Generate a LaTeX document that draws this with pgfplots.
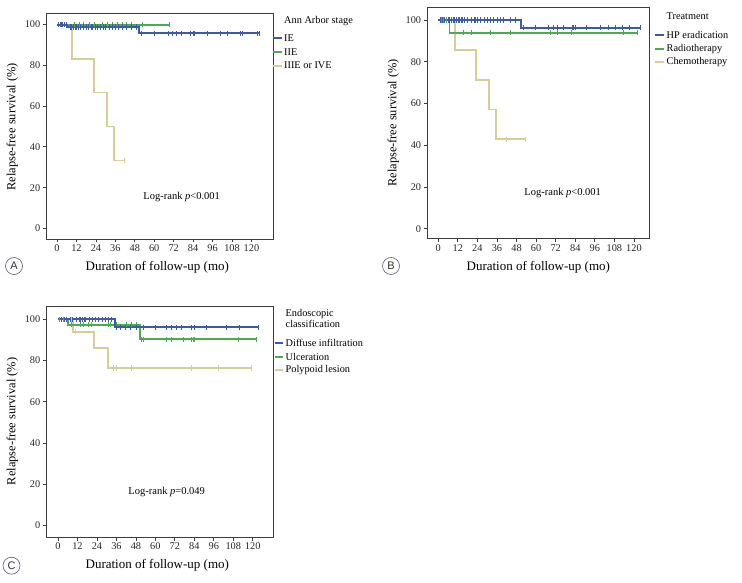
\documentclass[border=0pt]{standalone}
\usepackage{pgfplots}
\pgfplotsset{compat=1.18}
\usepackage{fontspec}
\setmainfont{Liberation Serif}
\newfontfamily\sffont{Liberation Sans}
\definecolor{kmblue}{RGB}{60,90,168}
\definecolor{kmgreen}{RGB}{72,172,80}
\definecolor{kmtan}{RGB}{214,206,152}
\definecolor{axgray}{RGB}{60,60,60}
\definecolor{circ}{RGB}{95,85,115}
\pgfplotsset{
  km/.style={
    scale only axis, anchor=south west,
    axis line style={axgray, line width=0.9pt},
    tick style={axgray, line width=0.8pt},
    tick align=outside, major tick length=3.5pt, tick pos=left,
    xtick={0,12,...,120}, ytick={0,20,...,100},
    ticklabel style={font=\fontsize{10.3}{12}\selectfont, text=black!85},
    /pgf/number format/assume math mode=true,
    xticklabel style={inner sep=2pt}, yticklabel style={inner sep=2.5pt},
  },
  curve/.style={const plot, line width=1.9pt, #1},
  cens/.style={only marks, mark=|, mark size=2.6pt, mark options={line width=0.6pt, #1}},
}
\newcommand{\legtext}{\fontsize{10.3}{12}\selectfont}
\begin{document}
\begin{tikzpicture}[x=1pt,y=1pt]
\path[use as bounding box] (0,0) rectangle (742,582);

% ---------------- Panel A ----------------
\begin{axis}[km, at={(46.5pt,343pt)}, width=226.5pt, height=226pt,
  xmin=-6.5, xmax=133.3, ymin=-5.2, ymax=105.7]
\addplot[curve=kmtan] coordinates {(0,100)(9.5,83.3)(22.6,66.7)(30.9,50)(35.4,33.3)(41.7,33.3)};
\addplot[cens=kmtan] coordinates {(41.7,33.3)};
\addplot[curve=kmgreen] coordinates {(0,100)(69,100)};
\addplot[cens=kmgreen] coordinates {(10.6,100)(13.7,100)(16,100)(19.9,100)(23,100)(28,100)(31,100)(34.2,100)(37,100)(40.4,100)(43,100)(46,100)(52.9,100)(69,100)};
\addplot[curve=kmblue] coordinates {(0,100)(6.2,98.8)(50.6,95.7)(125,95.7)};
\addplot[cens=kmblue] coordinates {(1,100)(2,100)(2.5,100)(3,100)(3.5,100)(4.5,100)(5.5,100)
 (8,98.8)(9,98.8)(10,98.8)(11,98.8)(12,98.8)(13,98.8)(14.5,98.8)(16,98.8)(18,98.8)(19.5,98.8)(21,98.8)(22,98.8)(23.5,98.8)(25,98.8)(27,98.8)(28.5,98.8)(30,98.8)(32,98.8)(34,98.8)(36,98.8)(38,98.8)(40,98.8)(43,98.8)(46,98.8)(49,98.8)
 (52,95.7)(60.3,95.7)(68.6,95.7)(71.3,95.7)(73.8,95.7)(76.9,95.7)(82.5,95.7)(83.8,95.7)(84.6,95.7)(92.5,95.7)(100.7,95.7)(104.9,95.7)(113.2,95.7)(114.3,95.7)(123.6,95.7)(125,95.7)};
\end{axis}
\node[font=\fontsize{10.5}{12}\selectfont] at (181.7,385.3) {Log-rank \textit{p}<0.001};
\node[font=\fontsize{13}{15}\selectfont] at (157.3,314.3) {Duration of follow-up (mo)};
\node[font=\fontsize{12.4}{14}\selectfont, rotate=90] at (12.3,455) {Relapse-free survival (\%)};
\node[anchor=west, inner sep=0, font=\legtext] at (284,561.3) {Ann Arbor stage};
\draw[kmblue, line width=1.8pt] (273,543.7) -- (282,543.7);
\draw[kmgreen, line width=1.8pt] (273,529.7) -- (282,529.7);
\draw[kmtan, line width=1.8pt] (273,516.3) -- (282,516.3);
\node[anchor=west, inner sep=0, font=\legtext] at (284,543.7) {IE};
\node[anchor=west, inner sep=0, font=\legtext] at (284,529.7) {IIE};
\node[anchor=west, inner sep=0, font=\legtext] at (284,516.3) {IIIE or IVE};
\draw[circ, line width=0.6pt] (14,316) circle (8.5);
\node[font=\sffont\fontsize{11}{12}\selectfont, text=black!80] at (14,316) {A};

% ---------------- Panel B ----------------
\begin{axis}[km, at={(427.3pt,343.3pt)}, width=222pt, height=231.4pt,
  xmin=-6.7, xmax=129.4, ymin=-4.8, ymax=106.1]
\addplot[curve=kmtan] coordinates {(0,100)(10.4,85.7)(23.1,71.4)(31.2,57.1)(35.3,42.9)(53.3,42.9)};
\addplot[cens=kmtan] coordinates {(41.5,42.9)(53.3,42.9)};
\addplot[curve=kmgreen] coordinates {(0,100)(6.9,93.9)(122,93.9)};
\addplot[cens=kmgreen] coordinates {(2,100)(3,100)(4,100)(5,100)(15.5,93.9)(20.2,93.9)(31.8,93.9)(44.1,93.9)(68.6,93.9)(73.3,93.9)(81.3,93.9)(113.5,93.9)(122,93.9)};
\addplot[curve=kmblue] coordinates {(0,100)(50.6,96.3)(124,96.3)};
\addplot[cens=kmblue] coordinates {(1,100)(1.5,100)(2.5,100)(3.5,100)(6,100)(7,100)(8,100)(9,100)(10,100)(11,100)(12,100)(13,100)(14,100)(15,100)(16,100)(18,100)(20,100)(22,100)(23,100)(24,100)(26,100)(28,100)(30,100)(32,100)(34,100)(36,100)(38,100)(40,100)(44,100)(47,100)
 (52.3,96.3)(59.4,96.3)(67.5,96.3)(70.6,96.3)(72.7,96.3)(76.7,96.3)(81.9,96.3)(82.8,96.3)(83.9,96.3)(91,96.3)(99.2,96.3)(104.3,96.3)(108.4,96.3)(112.9,96.3)(117,96.3)(124,96.3)};
\end{axis}
\node[font=\fontsize{10.5}{12}\selectfont] at (562.7,389.3) {Log-rank \textit{p}<0.001};
\node[font=\fontsize{13}{15}\selectfont] at (538.3,314.3) {Duration of follow-up (mo)};
\node[font=\fontsize{12.4}{14}\selectfont, rotate=90] at (393.3,459) {Relapse-free survival (\%)};
\node[anchor=west, inner sep=0, font=\legtext] at (666.5,566.3) {Treatment};
\draw[kmblue, line width=1.8pt] (655,547) -- (663.5,547);
\draw[kmgreen, line width=1.8pt] (655,533) -- (663.5,533);
\draw[kmtan, line width=1.8pt] (655,519.7) -- (663.5,519.7);
\node[anchor=west, inner sep=0, font=\legtext] at (666.5,547) {HP eradication};
\node[anchor=west, inner sep=0, font=\legtext] at (666.5,533) {Radiotherapy};
\node[anchor=west, inner sep=0, font=\legtext] at (666.5,519.7) {Chemotherapy};
\draw[circ, line width=0.6pt] (391,316) circle (8.5);
\node[font=\sffont\fontsize{11}{12}\selectfont, text=black!80] at (391,316) {B};

% ---------------- Panel C ----------------
\begin{axis}[km, at={(46.5pt,45pt)}, width=226.5pt, height=231pt,
  xmin=-7.1, xmax=132.5, ymin=-5.7, ymax=106.5]
\addplot[curve=kmtan] coordinates {(0,100)(9.4,94)(22.3,86.2)(30.6,76.4)(119.6,76.4)};
\addplot[cens=kmtan] coordinates {(8,100)(10.5,94)(34,76.4)(36.1,76.4)(45.4,76.4)(82.3,76.4)(98.6,76.4)(119.2,76.4)};
\addplot[curve=kmgreen] coordinates {(0,100)(6.4,97.4)(50.5,90.3)(122,90.3)};
\addplot[cens=kmgreen] coordinates {(0.5,100)(1,100)(2,100)(3,100)
 (8.4,97.4)(13.5,97.4)(15.6,97.4)(18.7,97.4)(20.7,97.4)(31,97.4)(32,97.4)(36.1,97.4)(42.3,97.4)(45.4,97.4)(48.4,97.4)
 (51.5,90.3)(52.5,90.3)(66.9,90.3)(70,90.3)(77.1,90.3)(82.3,90.3)(83.3,90.3)(84.3,90.3)(111,90.3)(122.3,90.3)};
\addplot[curve=kmblue] coordinates {(0,100)(35.1,96.1)(124,96.1)};
\addplot[cens=kmblue] coordinates {(2,100)(4,100)(5,100)(7.4,100)(9,100)(11,100)(13,100)(14,100)(15,100)(16,100)(17,100)(19,100)(21,100)(23,100)(25,100)(27,100)(29,100)(31,100)(33,100)
 (35.7,96.1)(38.2,96.1)(41.2,96.1)(44.3,96.1)(48.4,96.1)(52.5,96.1)(59.7,96.1)(66.9,96.1)(70,96.1)(73,96.1)(76.1,96.1)(82.3,96.1)(84.3,96.1)(91.5,96.1)(103.8,96.1)(112,96.1)(123.3,96.1)};
\end{axis}
\node[font=\fontsize{10.5}{12}\selectfont] at (166.7,89.7) {Log-rank \textit{p}=0.049};
\node[font=\fontsize{13}{15}\selectfont] at (157.3,16.3) {Duration of follow-up (mo)};
\node[font=\fontsize{12.4}{14}\selectfont, rotate=90] at (12.3,160.5) {Relapse-free survival (\%)};
\node[anchor=west, inner sep=0, font=\legtext] at (285.5,267.7) {Endoscopic};
\node[anchor=west, inner sep=0, font=\legtext] at (285.5,257.7) {classification};
\draw[kmblue, line width=1.8pt] (275,239.3) -- (283,239.3);
\draw[kmgreen, line width=1.8pt] (275,225.3) -- (283,225.3);
\draw[kmtan, line width=1.8pt] (275,212) -- (283,212);
\node[anchor=west, inner sep=0, font=\legtext] at (285.5,239.3) {Diffuse infiltration};
\node[anchor=west, inner sep=0, font=\legtext] at (285.5,225.3) {Ulceration};
\node[anchor=west, inner sep=0, font=\legtext] at (285.5,212) {Polypoid lesion};
\draw[circ, line width=0.6pt] (11.5,16.3) circle (8.5);
\node[font=\sffont\fontsize{11}{12}\selectfont, text=black!80] at (11.5,16.3) {C};
\end{tikzpicture}
\end{document}
